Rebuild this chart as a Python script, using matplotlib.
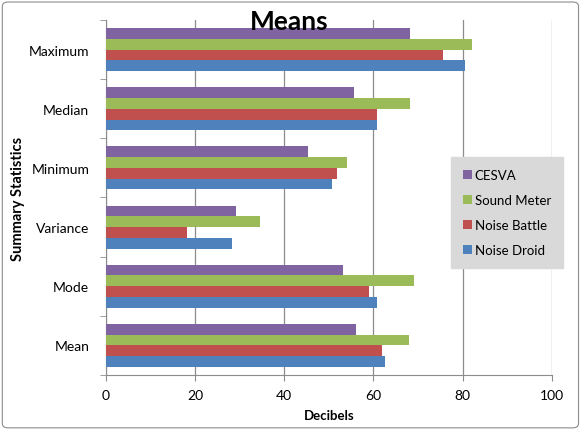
import matplotlib.pyplot as plt
import numpy as np
from matplotlib.patches import FancyBboxPatch

plt.rcParams['font.family'] = ['Lato', 'DejaVu Sans']

# Data
stats = ['Mean', 'Mode', 'Variance', 'Minimum', 'Median', 'Maximum']
noise_droid = [62.7, 60.9, 28.3, 50.7, 60.9, 80.6]
noise_battle = [62.0, 58.9, 18.2, 51.8, 60.9, 75.7]
sound_meter = [67.9, 69.1, 34.5, 54.1, 68.1, 82.1]
cesva = [56.1, 53.1, 29.1, 45.4, 55.6, 68.3]

series = [('Noise Droid', noise_droid, '#4F81BD'),
          ('Noise Battle', noise_battle, '#C0504D'),
          ('Sound Meter', sound_meter, '#9BBB59'),
          ('CESVA', cesva, '#8064A2')]

fig = plt.figure(figsize=(5.82, 4.31), dpi=100)
ax = fig.add_axes([0.182, 0.128, 0.766, 0.823])

# outer chart border like Excel
fig.patches.append(FancyBboxPatch((0.004, 0.005), 0.99, 0.988, boxstyle='round,pad=0,rounding_size=0.01',
                                  transform=fig.transFigure, facecolor='none', edgecolor='#8c8c8c', linewidth=0.8))

y = np.arange(len(stats))
h = 1 / 5.5
for i, (name, vals, col) in enumerate(series):
    ax.barh(y + (i - 1.5) * h, vals, height=h, color=col, label=name, zorder=3)

ax.set_xlim(0, 100)
ax.set_ylim(-0.5, len(stats) - 0.5)
ax.set_xticks(range(0, 101, 20))
ax.set_yticks(y)
ax.set_yticklabels(stats)
ax.set_yticks(np.arange(-0.5, len(stats), 1), minor=True)
ax.tick_params(axis='y', which='major', length=0, pad=12, labelsize=10)
ax.tick_params(axis='y', which='minor', length=4, color='#8c8c8c')
ax.tick_params(axis='x', length=4, color='#8c8c8c', labelsize=10, pad=6)
ax.grid(axis='x', color='#8c8c8c', linewidth=0.9, zorder=0)
for s in ['top', 'right']:
    ax.spines[s].set_visible(False)
for s in ['left', 'bottom']:
    ax.spines[s].set_color('#8c8c8c')

ax.set_xlabel('Decibels', fontweight='bold', fontsize=9.5, labelpad=6)
ax.set_ylabel('Summary Statistics', fontweight='bold', fontsize=10.5)
ax.yaxis.set_label_coords(-0.181, 0.5)
fig.text(0.497, 0.948, 'Means', ha='center', va='center', fontsize=19, fontweight='bold')

handles, labels = ax.get_legend_handles_labels()
leg = ax.legend(handles[::-1], labels[::-1], loc='upper left', bbox_to_anchor=(0.774, 0.614),
                borderaxespad=0, frameon=True, fancybox=False, facecolor='#d9d9d9', edgecolor='#d9d9d9',
                fontsize=9.5, handlelength=0.7, handleheight=0.7, handletextpad=0.2,
                labelspacing=1.0, borderpad=0.9)
leg.get_frame().set_alpha(1)

fig.savefig('out.png', dpi=100)
